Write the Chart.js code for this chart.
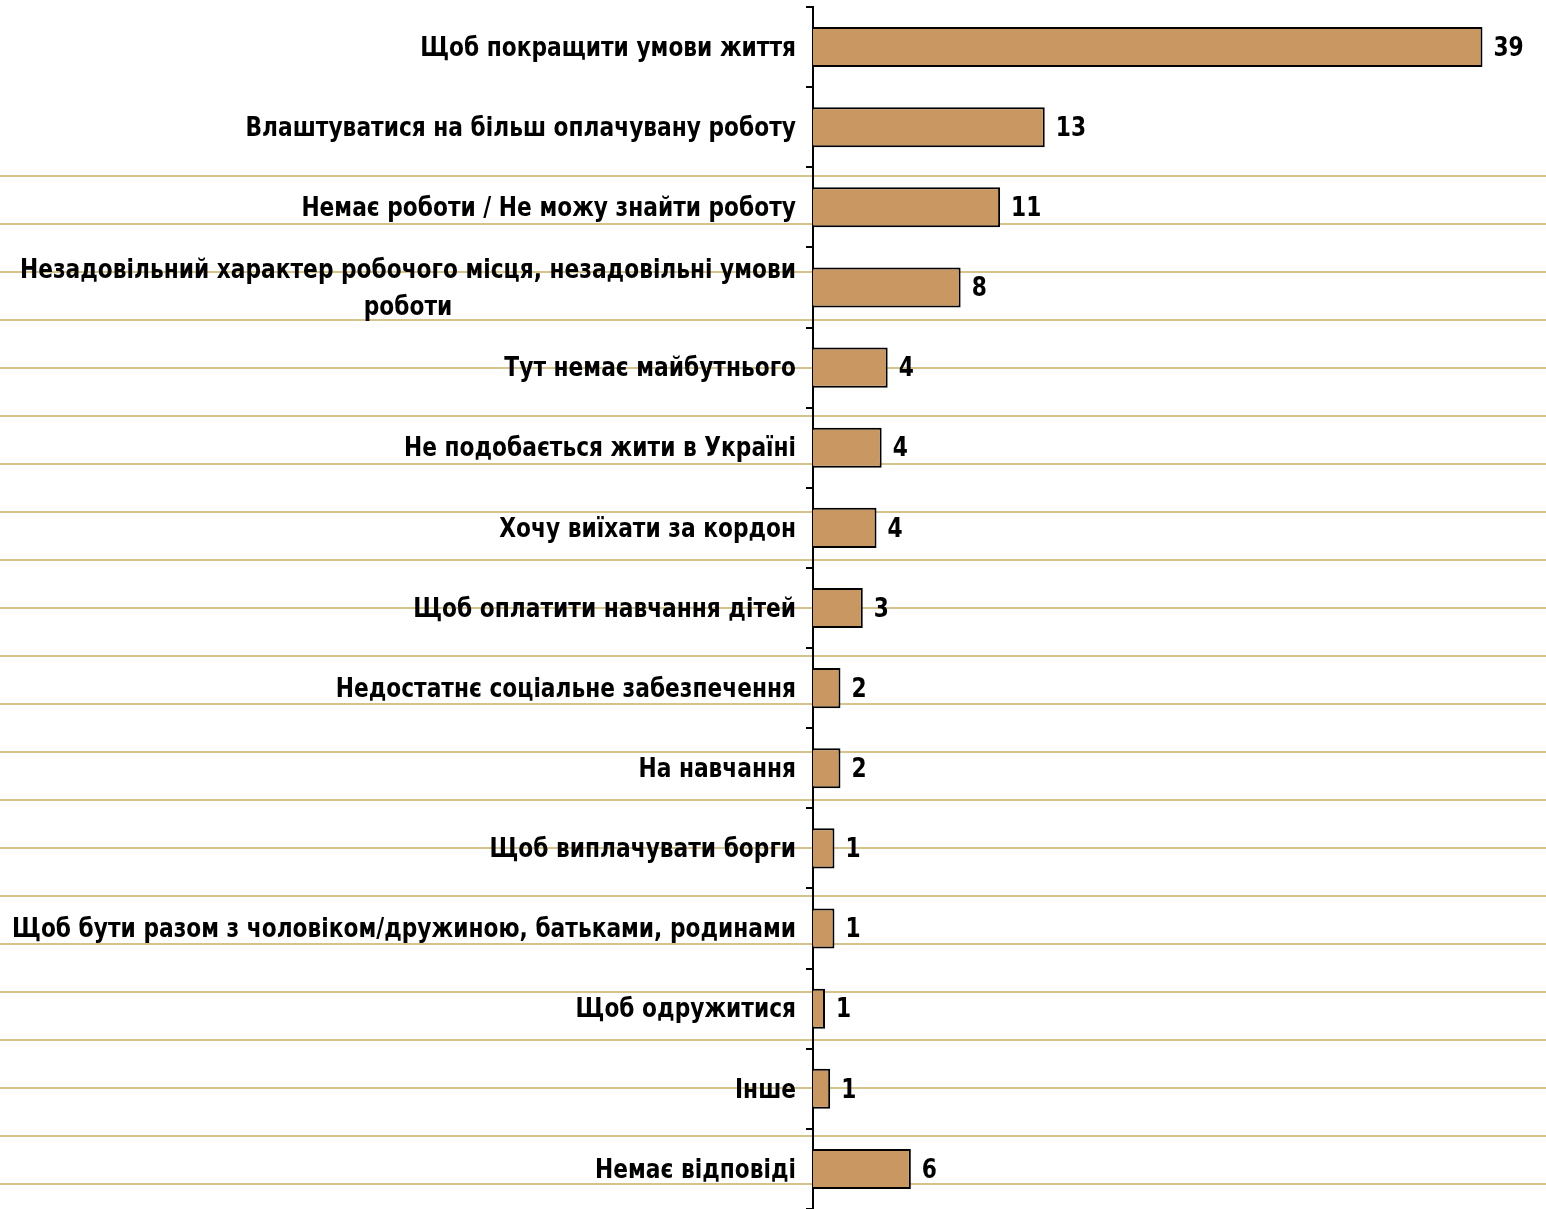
<!DOCTYPE html>
<html>
<head>
<meta charset="utf-8">
<script src="https://cdn.jsdelivr.net/npm/chart.js@4/dist/chart.umd.min.js"></script>
<style>
    html, body { margin: 0; padding: 0; background: #fff; }
    #wrap { width: 1546px; height: 1209px; position: relative; }
</style>
</head>
<body>
<div id="wrap"><canvas id="chart"></canvas></div>
<script>
// categories (top to bottom)
const categories = [
    'Щоб покращити умови життя',
    'Влаштуватися на більш оплачувану роботу',
    'Немає роботи / Не можу знайти роботу',
    ['Незадовільний характер робочого місця, незадовільні умови', 'роботи'],
    'Тут немає майбутнього',
    'Не подобається жити в Україні',
    'Хочу виїхати за кордон',
    'Щоб оплатити навчання дітей',
    'Недостатнє соціальне забезпечення',
    'На навчання',
    'Щоб виплачувати борги',
    'Щоб бути разом з чоловіком/дружиною, батьками, родинами',
    'Щоб одружитися',
    'Інше',
    'Немає відповіді'
];

// bar lengths as drawn in the picture
const barValues = [39, 13.5, 10.9, 8.6, 4.35, 4.0, 3.7, 2.9, 1.6, 1.6, 1.25, 1.25, 0.7, 1.0, 5.7];

// numbers printed next to the bars
const printedValues = ['39', '13', '11', '8', '4', '4', '4', '3', '2', '2', '1', '1', '1', '1', '6'];

const FONT = 'bold 26px "DejaVu Sans Condensed", "Liberation Sans Narrow", "DejaVu Sans", sans-serif';
const SQUEEZE = 0.93;   // the original text is drawn a little narrower

// khaki background rules of the original slide
const backgroundLines = {
    id: 'backgroundLines',
    beforeDraw(chart) {
        const ctx = chart.ctx;
        ctx.save();
        ctx.strokeStyle = '#D5C38E';
        ctx.lineWidth = 2;
        for (let y = 176; y < chart.height; y += 48) {
            ctx.beginPath();
            ctx.moveTo(0, y);
            ctx.lineTo(chart.width, y);
            ctx.stroke();
        }
        ctx.restore();
    }
};

function squeezedText(ctx, text, x, y) {
    ctx.save();
    ctx.translate(x, y);
    ctx.scale(SQUEEZE, 1);
    ctx.fillText(text, 0, 0);
    ctx.restore();
}

// category labels: right aligned, wrapped lines centred on each other
const categoryLabels = {
    id: 'categoryLabels',
    afterDraw(chart) {
        const ctx = chart.ctx;
        const yScale = chart.scales.y;
        const right = chart.chartArea.left - 17;
        ctx.save();
        ctx.font = FONT;
        ctx.fillStyle = '#000';
        ctx.textBaseline = 'middle';
        ctx.textAlign = 'center';
        categories.forEach((label, i) => {
            const y = yScale.getPixelForValue(i) + 2;
            const lines = Array.isArray(label) ? label : [label];
            const widest = Math.max(...lines.map(l => ctx.measureText(l).width)) * SQUEEZE;
            const centre = right - widest / 2;
            const lineHeight = 37;
            lines.forEach((line, j) => {
                squeezedText(ctx, line, centre, y + (j - (lines.length - 1) / 2) * lineHeight);
            });
        });
        ctx.restore();
    }
};

const valueLabels = {
    id: 'valueLabels',
    afterDatasetsDraw(chart) {
        const ctx = chart.ctx;
        const meta = chart.getDatasetMeta(0);
        ctx.save();
        ctx.font = FONT;
        ctx.fillStyle = '#000';
        ctx.textAlign = 'left';
        ctx.textBaseline = 'middle';
        meta.data.forEach((bar, i) => {
            squeezedText(ctx, printedValues[i], bar.x + 11, bar.y + 2);
        });
        ctx.restore();
    }
};

new Chart(document.getElementById('chart').getContext('2d'), {
    type: 'bar',
    data: {
        labels: categories,
        datasets: [{
            data: barValues,
            backgroundColor: '#C99762',
            borderColor: '#000',
            borderWidth: 2,
            barPercentage: 0.5,
            categoryPercentage: 1
        }]
    },
    options: {
        indexAxis: 'y',
        responsive: true,
        maintainAspectRatio: false,
        animation: false,
        layout: {
            padding: { top: 7, right: 0, bottom: 0, left: 0 }
        },
        plugins: {
            legend: { display: false },
            tooltip: { enabled: false }
        },
        scales: {
            x: {
                display: false,
                min: 0,
                max: 42.7
            },
            y: {
                afterFit(scale) {
                    scale.width = 813;
                },
                ticks: { display: false },
                grid: {
                    offset: true,
                    drawOnChartArea: false,
                    drawTicks: true,
                    tickLength: 7,
                    color: '#000',
                    lineWidth: 2
                },
                border: { color: '#000', width: 2 }
            }
        }
    },
    plugins: [backgroundLines, categoryLabels, valueLabels]
});
</script>
</body>
</html>
